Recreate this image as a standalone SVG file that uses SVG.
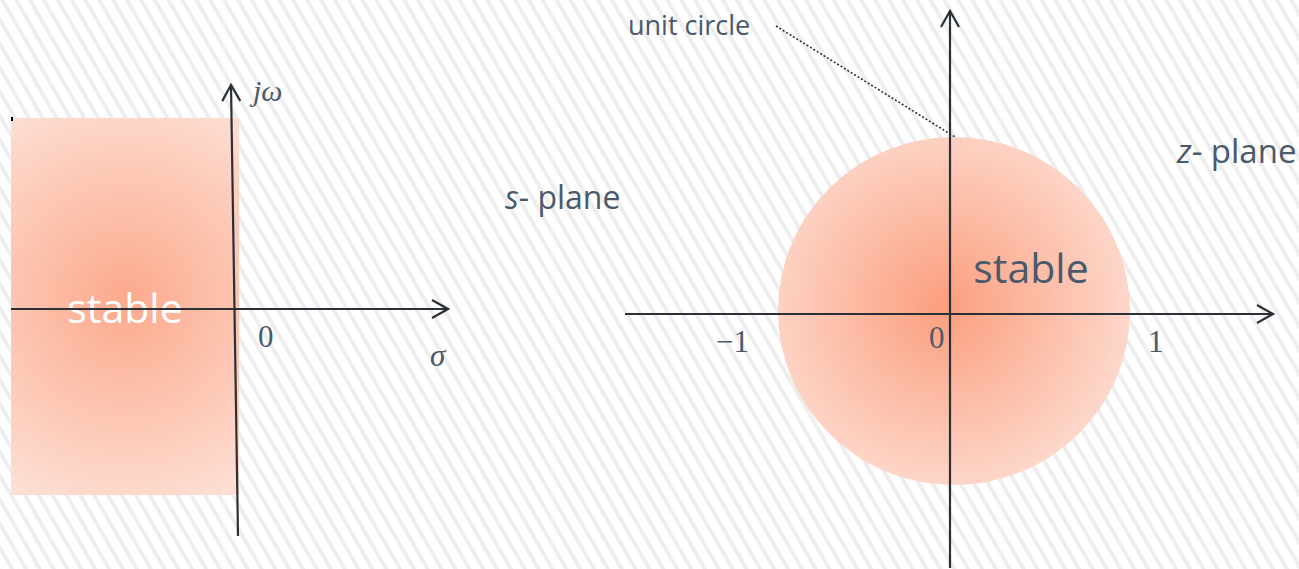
<svg xmlns="http://www.w3.org/2000/svg" width="1299" height="569" viewBox="0 0 1299 569">
<defs>
<pattern id="stripes" width="12" height="40" patternUnits="userSpaceOnUse" patternTransform="rotate(-30)">
<rect width="12" height="40" fill="#ffffff"/>
<rect x="0" width="4" height="40" fill="#eeeeee"/>
</pattern>
<radialGradient id="gRect" gradientUnits="userSpaceOnUse" cx="125" cy="300" r="230">
<stop offset="0" stop-color="#fca98c"/>
<stop offset="1" stop-color="#fde2d8"/>
</radialGradient>
<radialGradient id="gCirc" gradientUnits="userSpaceOnUse" cx="945" cy="305" r="185">
<stop offset="0" stop-color="#fb9e7e"/>
<stop offset="1" stop-color="#fdd7ca"/>
</radialGradient>
<marker id="arr" viewBox="0 0 20 20" refX="18" refY="10" markerWidth="20" markerHeight="20" markerUnits="userSpaceOnUse" orient="auto">
<path d="M2,1 L18,10 L2,19" fill="none" stroke="#2b3038" stroke-width="2.2"/>
</marker>
<style>
.ax{stroke:#2b3038;stroke-width:2.2;fill:none}
.t{font-family:"Open Sans","Liberation Sans",sans-serif;fill:#4b5a6b}
.m{font-family:"Liberation Serif","DejaVu Serif",serif;fill:#4b5a6b}
</style>
</defs>
<rect width="1299" height="569" fill="url(#stripes)"/>
<g id="s-plane-region">
<rect x="11" y="118" width="228" height="377" fill="url(#gRect)"/>
<rect x="11" y="117" width="2" height="4" fill="#000000"/>
<text x="125" y="323" text-anchor="middle" class="t" font-size="41" style="fill:#ffffff">stable</text>
</g>
<g id="z-plane-region">
<ellipse cx="954" cy="311" rx="176" ry="174" fill="url(#gCirc)"/>
<text x="1031" y="283" text-anchor="middle" class="t" font-size="41">stable</text>
</g>
<g id="connectors">
<line x1="238" y1="536" x2="231" y2="85" class="ax" marker-end="url(#arr)"/>
<line x1="11" y1="309" x2="448" y2="309" class="ax" marker-end="url(#arr)"/>
<line x1="950" y1="568" x2="950" y2="11" class="ax" marker-end="url(#arr)"/>
<line x1="625" y1="314" x2="1273" y2="314" class="ax" marker-end="url(#arr)"/>
<line x1="776" y1="26" x2="955" y2="137" stroke="#2b3038" stroke-width="1.6" stroke-dasharray="2,2"/>
</g>
<g id="labels">
<text x="253" y="101" class="m" font-size="30" font-style="italic">jω</text>
<text x="258" y="347" class="m" font-size="31">0</text>
<text x="430" y="366" class="m" font-size="31" font-style="italic">σ</text>
<text x="628" y="35" class="t" font-size="27">unit circle</text>
<text x="505" y="209" class="t" font-size="32"><tspan font-style="italic">s</tspan>- plane</text>
<text x="1177" y="163" class="t" font-size="33"><tspan font-style="italic">z</tspan>- plane</text>
<text x="716" y="352" class="m" font-size="31">−1</text>
<text x="929" y="348" class="m" font-size="31">0</text>
<text x="1148" y="352" class="m" font-size="31">1</text>
</g>
</svg>
